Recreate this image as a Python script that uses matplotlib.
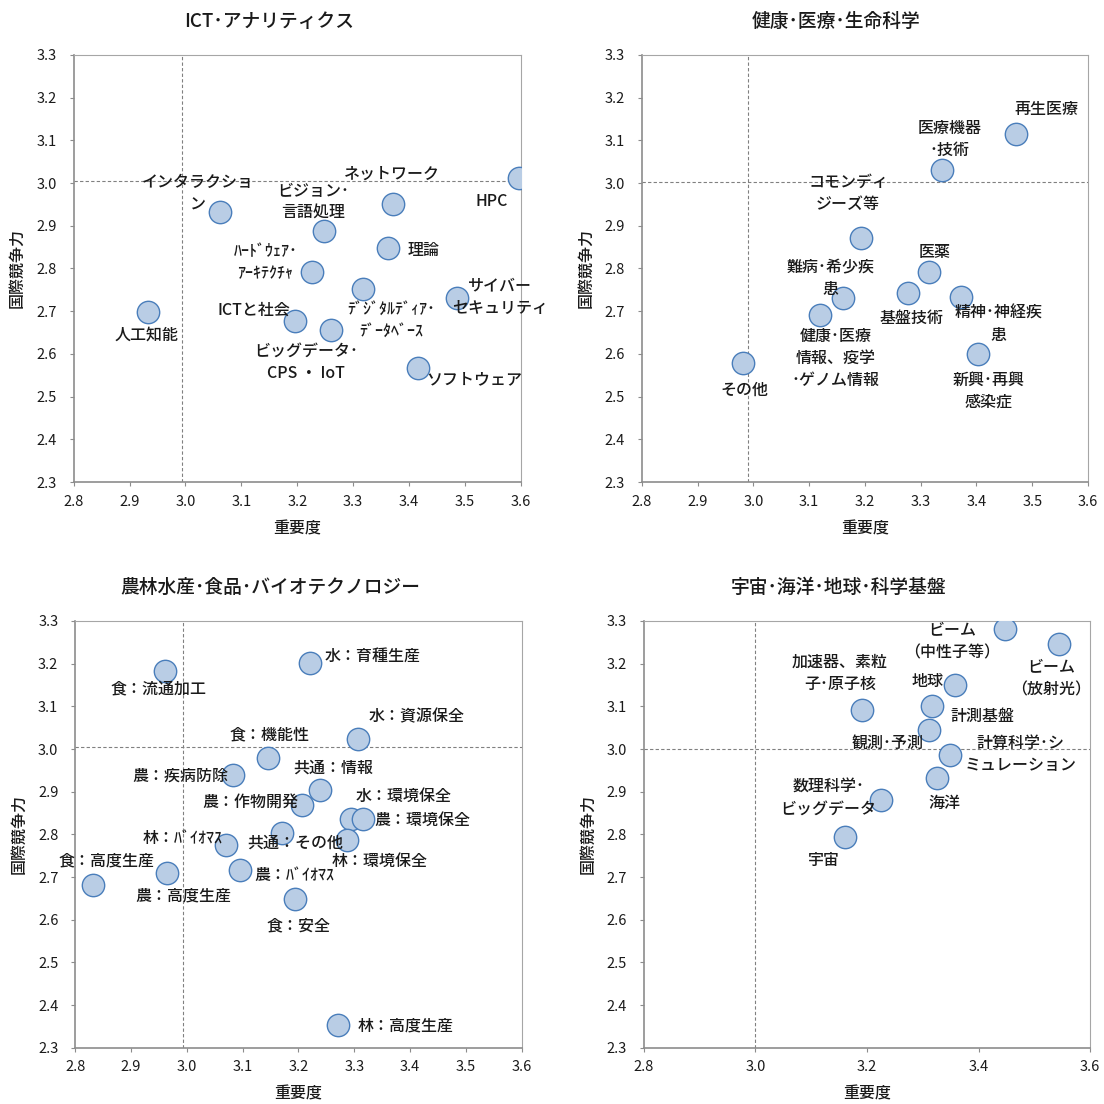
import matplotlib
matplotlib.use("Agg")
import matplotlib.pyplot as plt

plt.rcParams["font.family"] = ["Noto Sans CJK JP", "DejaVu Sans"]

FACE = "#B9CDE5"; EDGE = "#4A7EBB"; AXC = "#8C8C8C"; LAXC = "#A6A6A6"
DASH = "#808080"; INK = "#1A1A1A"

# ---- ICT･アナリティクス
ict_names = ["人工知能", "インタラクショ\nン", "ビジョン･\n言語処理", "ネットワーク", "HPC", "理論",
             "ﾊｰﾄﾞｳｪｱ･\nｱｰｷﾃｸﾁｬ", "ﾃﾞｼﾞﾀﾙﾃﾞｨｱ･\nﾃﾞｰﾀﾍﾞｰｽ", "サイバー\nセキュリティ", "ICTと社会",
             "ビッグデータ･\nCPS ・ IoT", "ソフトウェア"]
ict_x = [2.933, 3.061, 3.247, 3.371, 3.596, 3.363, 3.227, 3.317, 3.486, 3.196, 3.261, 3.416]
ict_y = [2.698, 2.933, 2.888, 2.952, 3.013, 2.847, 2.792, 2.753, 2.731, 2.678, 2.657, 2.567]
ict_ref = (2.994, 3.006)

# ---- 健康･医療･生命科学
med_names = ["再生医療", "医療機器\n･技術", "コモンディ\nジーズ等", "医薬", "基盤技術", "精神･神経疾\n患",
             "難病･希少疾\n患", "健康･医療\n情報、疫学\n･ゲノム情報", "新興･再興\n感染症", "その他"]
med_x = [3.471, 3.338, 3.193, 3.315, 3.278, 3.373, 3.160, 3.120, 3.403, 2.981]
med_y = [3.115, 3.030, 2.872, 2.791, 2.743, 2.734, 2.730, 2.692, 2.599, 2.578]
med_ref = (2.991, 3.002)

# ---- 農林水産･食品･バイオテクノロジー
agr_names = ["食：流通加工", "水：育種生産", "水：資源保全", "食：機能性", "農：疾病防除", "共通：情報",
             "農：作物開発", "水：環境保全", "農：環境保全", "共通：その他", "林：環境保全", "林：ﾊﾞｲｵﾏｽ",
             "農：ﾊﾞｲｵﾏｽ", "農：高度生産", "食：高度生産", "食：安全", "林：高度生産"]
agr_x = [2.960, 3.220, 3.306, 3.145, 3.082, 3.239, 3.207, 3.294, 3.316, 3.171, 3.287, 3.070,
         3.095, 2.964, 2.832, 3.193, 3.270]
agr_y = [3.183, 3.202, 3.024, 2.980, 2.938, 2.903, 2.868, 2.837, 2.837, 2.804, 2.786, 2.776,
         2.717, 2.709, 2.681, 2.648, 2.353]
agr_ref = (2.993, 3.004)

# ---- 宇宙･海洋･地球･科学基盤
spc_names = ["ビーム\n（中性子等）", "ビーム\n（放射光）", "加速器、素粒\n子･原子核", "地球", "計測基盤",
             "観測･予測", "計算科学･シ\nミュレーション", "海洋", "数理科学･\nビッグデータ", "宇宙"]
spc_x = [3.448, 3.545, 3.191, 3.358, 3.317, 3.312, 3.349, 3.325, 3.226, 3.160]
spc_y = [3.282, 3.246, 3.091, 3.151, 3.100, 3.045, 2.987, 2.933, 2.881, 2.793]
spc_ref = (3.000, 3.000)

# label offsets from each bubble, in pixels (layout only)
ict_off = [(-2, -23), (-22, 18), (-10, 28.5), (-1, 29.6), (-27, -24), (35, -2.5), (-47, 9),
           (29, -32), (43, 1), (-41, 10.5), (-25, -33), (56, -12)]
med_off = [(30, 24), (8, 31), (-13, 44), (6, 20), (3, -26), (37, -28), (-12, 19.5), (15, -44),
           (10, -37), (2, -27)]
agr_off = [(-5.6, -17.7), (63, 7), (58.5, 22), (1.4, 22.6), (-52, -1), (12.7, 22), (-52, 3),
           (53, 22.6), (59.5, -1.7), (13, -10), (32.4, -21.5), (-43.3, 6.3), (54.6, -5.2),
           (16.5, -22.6), (13.4, 24), (3.5, -26.7), (67.6, -1)]
spc_off = [(-53.4, -13.2), (-8, -34.7), (-22, 37), (-27.4, 2.8), (50, -10.4), (-41.5, -14.6),
           (70.6, -0.3), (8, -26), (-53, 1.7), (-20.7, -23)]

xticks_fine = [2.8, 2.9, 3.0, 3.1, 3.2, 3.3, 3.4, 3.5, 3.6]
xticks_coarse = [2.8, 3.0, 3.2, 3.4, 3.6]
yticks = [2.3, 2.4, 2.5, 2.6, 2.7, 2.8, 2.9, 3.0, 3.1, 3.2, 3.3]

fig = plt.figure(figsize=(11.04, 11.04), dpi=100)


def panel(rect, title, names, xs, ys, offs, ref, xt):
    ax = fig.add_axes(rect)
    ax.set_xlim(2.8, 3.6); ax.set_ylim(2.3, 3.3)
    ax.set_xticks(xt); ax.set_yticks(yticks)
    ax.set_xticklabels(["%.1f" % v for v in xt])
    ax.set_yticklabels(["%.1f" % v for v in yticks])
    ax.tick_params(direction="out", length=3.2, width=0.8, color=AXC, labelsize=10.5,
                   labelcolor=INK, top=False, right=False)
    ax.tick_params(axis="y", pad=9)
    ax.tick_params(axis="x", pad=6)
    for s in ("left", "bottom"):
        ax.spines[s].set_color(AXC); ax.spines[s].set_linewidth(1.2)
    for s in ("top", "right"):
        ax.spines[s].set_color(LAXC); ax.spines[s].set_linewidth(0.8)
    ax.axvline(ref[0], color=DASH, lw=0.8, ls=(0, (3, 2)), zorder=1)
    ax.axhline(ref[1], color=DASH, lw=0.8, ls=(0, (3, 2)), zorder=1)
    ax.scatter(xs, ys, s=260, c=FACE, edgecolors=EDGE, linewidths=1.0, zorder=3)
    for n, x, y, (dx, dy) in zip(names, xs, ys, offs):
        ax.annotate(n, (x, y), xytext=(dx, dy), textcoords="offset pixels", ha="center",
                    va="center", fontsize=11.5, fontweight="medium", color=INK,
                    linespacing=1.4, zorder=4)
    ax.text(0.436, 1.078, title, transform=ax.transAxes, ha="center", va="center",
            fontsize=13.5, fontweight="medium", color=INK)
    ax.text(0.5, -0.109, "重要度", transform=ax.transAxes, ha="center", va="center",
            fontsize=11.5, fontweight="medium", color=INK)
    ax.text(-0.126, 0.5, "国際競争力", transform=ax.transAxes, ha="center", va="center",
            rotation=90, fontsize=11.5, fontweight="medium", color=INK)
    return ax


panel([0.0668, 0.5634, 0.4049, 0.3868], "ICT･アナリティクス", ict_names, ict_x, ict_y, ict_off,
      ict_ref, xticks_fine)
panel([0.5815, 0.5634, 0.4040, 0.3868], "健康･医療･生命科学", med_names, med_x, med_y, med_off,
      med_ref, xticks_fine)
panel([0.0682, 0.0510, 0.4043, 0.3865], "農林水産･食品･バイオテクノロジー", agr_names, agr_x, agr_y,
      agr_off, agr_ref, xticks_fine)
panel([0.5831, 0.0510, 0.4043, 0.3865], "宇宙･海洋･地球･科学基盤", spc_names, spc_x, spc_y, spc_off,
      spc_ref, xticks_coarse)

fig.savefig("out.png", dpi=100, facecolor="white")
